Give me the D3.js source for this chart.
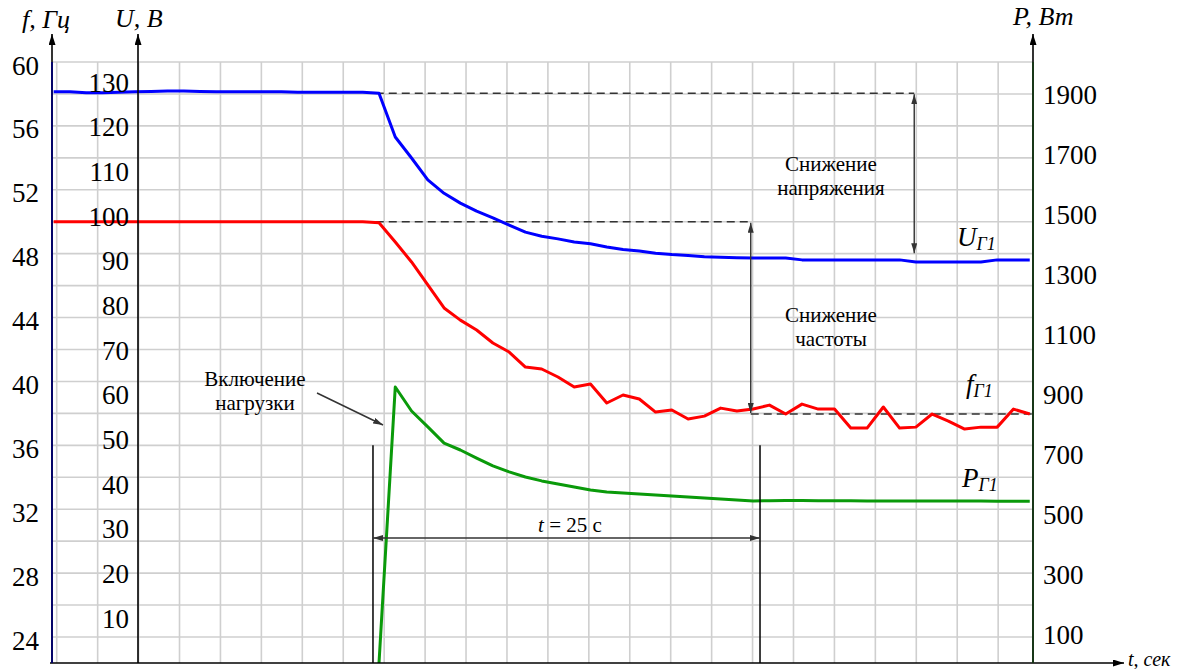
<!DOCTYPE html>
<html>
	<head>
		<meta charset="utf-8">

		<!-- D3.js -->
		<script src="https://cdnjs.cloudflare.com/ajax/libs/d3/7.8.5/d3.min.js" charset="utf-8"></script>

		<style>
			body { margin: 0; background: white; }

			.serif {
				font-family: "Liberation Serif", "DejaVu Serif", serif;
				fill: #000;
			}
			.axisTitle { font-style: italic; font-size: 26px; }
			.note { font-size: 21px; }
		</style>
	</head>
	<body>

		<div id="chart"></div>

		<script language="javascript" type="text/javascript">

			///////////////////////////////////////////////////////////////////////////
			///////////////////////////////// The data ////////////////////////////////
			///////////////////////////////////////////////////////////////////////////

			//Time stamps, one sample per second
			var time = d3.range(0, 61);

			//Generator voltage U_Г1, V
			var voltage = [127.8, 127.8, 127.6, 127.6, 127.7, 127.8, 127.9, 128.0, 128.0, 127.9,
				127.8, 127.8, 127.8, 127.8, 127.8, 127.7, 127.7, 127.7, 127.7, 127.7,
				127.5, 117.7, 113.0, 108.1, 105.1, 102.9, 101.1, 99.6, 98.0, 96.4,
				95.5, 94.9, 94.2, 93.8, 93.1, 92.5, 92.2, 91.7, 91.4, 91.2,
				90.9, 90.8, 90.7, 90.6, 90.6, 90.6, 90.2, 90.2, 90.2, 90.2,
				90.2, 90.2, 90.2, 89.7, 89.7, 89.7, 89.7, 89.7, 90.2, 90.2, 90.2];

			//Generator frequency f_Г1, Hz
			var frequency = [50.0, 50.0, 50.0, 50.0, 50.0, 50.0, 50.0, 50.0, 50.0, 50.0,
				50.0, 50.0, 50.0, 50.0, 50.0, 50.0, 50.0, 50.0, 50.0, 50.0,
				49.94, 48.73, 47.48, 46.04, 44.60, 43.84, 43.22, 42.41, 41.84, 40.90,
				40.78, 40.28, 39.65, 39.84, 38.65, 39.15, 38.90, 38.08, 38.21, 37.65,
				37.83, 38.33, 38.15, 38.27, 38.52, 37.96, 38.58, 38.27, 38.27, 37.08,
				37.08, 38.40, 37.08, 37.14, 37.96, 37.52, 37.02, 37.14, 37.14, 38.27, 37.96];

			//Generator power P_Г1, W (load switched on at t = 20 s)
			var powerTime = d3.range(20, 61);
			var power = [0, 920, 840, 787, 733, 710, 683, 657, 637, 620,
				607, 597, 587, 577, 570, 567, 563, 560, 557, 553,
				550, 547, 543, 540, 541, 542, 542, 541, 541, 541,
				540, 540, 540, 540, 540, 540, 540, 540, 539, 539, 539];

			//Tick labels of the three value axes
			var fTicks = [60, 56, 52, 48, 44, 40, 36, 32, 28, 24];
			var uTicks = [130, 120, 110, 100, 90, 80, 70, 60, 50, 40, 30, 20, 10];
			var pTicks = [1900, 1700, 1500, 1300, 1100, 900, 700, 500, 300, 100];

			//Reference levels for the annotations
			var uStart = 127.5, uSettled = 91.7;
			var fStart = 50, fSettled = 37.96;
			var tSwitch = 19.63, tSettle = 43.42;

			///////////////////////////////////////////////////////////////////////////
			//////////////////// Set up and initiate svg containers ///////////////////
			///////////////////////////////////////////////////////////////////////////

			var plot = { left: 52, right: 1033, top: 62, bottom: 663 };

			var svg = d3.select("#chart")
				.append("svg")
				.attr("width", 1179)
				.attr("height", 669)
				.style("display", "block");

			//Scales
			var x = d3.scaleLinear().domain([-0.1, 60.2]).range([plot.left, plot.right]);
			var yF = d3.scaleLinear().domain([60, 24]).range([plot.top, 637]);
			var yU = d3.scaleLinear().domain([0, 130]).range([plot.bottom, 82]);
			var yP = d3.scaleLinear().domain([0, 1900]).range([plot.bottom, 93]);

			//Arrow heads
			var defs = svg.append("defs");
			function addMarker(id, color, len, wid) {
				defs.append("marker")
					.attr("id", id)
					.attr("viewBox", "0 0 " + len + " " + wid)
					.attr("refX", len)
					.attr("refY", wid / 2)
					.attr("markerUnits", "userSpaceOnUse")
					.attr("markerWidth", len)
					.attr("markerHeight", wid)
					.attr("orient", "auto-start-reverse")
					.append("path")
					.attr("d", "M0,0 L" + len + "," + (wid / 2) + " L0," + wid + " Z")
					.style("fill", color);
			}//addMarker
			addMarker("axisArrow", "#000", 11, 7);
			addMarker("noteArrow", "#333", 10, 6);

			///////////////////////////////////////////////////////////////////////////
			///////////////////////////////// Grid lines //////////////////////////////
			///////////////////////////////////////////////////////////////////////////

			var hGrid = d3.range(60, 23, -2);
			var vGrid = d3.range(0.19, 60.2, 2.516);

			var grid = svg.append("g").attr("class", "grid");
			grid.selectAll(".hGrid")
				.data(hGrid)
				.join("line")
				.attr("class", "hGrid")
				.attr("x1", plot.left)
				.attr("x2", plot.right)
				.attr("y1", function(d) { return yF(d); })
				.attr("y2", function(d) { return yF(d); });
			grid.selectAll(".vGrid")
				.data(vGrid)
				.join("line")
				.attr("class", "vGrid")
				.attr("x1", function(d) { return x(d); })
				.attr("x2", function(d) { return x(d); })
				.attr("y1", plot.top)
				.attr("y2", plot.bottom);
			grid.selectAll("line")
				.style("stroke", "#cfcfcf")
				.style("stroke-width", 1.6);

			///////////////////////////////////////////////////////////////////////////
			/////////////////////////// Dashed reference lines ////////////////////////
			///////////////////////////////////////////////////////////////////////////

			function dashed(x1, x2, y) {
				svg.append("line")
					.attr("x1", x1).attr("x2", x2)
					.attr("y1", y).attr("y2", y)
					.style("stroke", "#333")
					.style("stroke-width", 1.5)
					.style("stroke-dasharray", "8,5");
			}
			dashed(x(19.8), x(52.9), yU(uStart));
			dashed(x(19.8), x(42.85), yF(fStart));
			dashed(x(42.85), plot.right, yF(fSettled));

			///////////////////////////////////////////////////////////////////////////
			////////////////////////////////// Series /////////////////////////////////
			///////////////////////////////////////////////////////////////////////////

			var uLine = d3.line()
				.x(function(d, i) { return x(time[i]); })
				.y(function(d) { return yU(d); });
			var fLine = d3.line()
				.x(function(d, i) { return x(time[i]); })
				.y(function(d) { return yF(d); });
			var pLine = d3.line()
				.x(function(d, i) { return x(powerTime[i]); })
				.y(function(d) { return yP(d); });

			var series = [
				{ values: voltage, line: uLine, color: "#0000ff" },
				{ values: frequency, line: fLine, color: "#ff0000" },
				{ values: power, line: pLine, color: "#0a9a0a" }
			];

			svg.selectAll(".series")
				.data(series)
				.join("path")
				.attr("class", "series")
				.attr("d", function(d) { return d.line(d.values); })
				.style("fill", "none")
				.style("stroke", function(d) { return d.color; })
				.style("stroke-width", 3)
				.style("stroke-linejoin", "round");

			///////////////////////////////////////////////////////////////////////////
			/////////////////////////////////// Axes //////////////////////////////////
			///////////////////////////////////////////////////////////////////////////

			//Axis lines with arrows
			function axisLine(x1, y1, x2, y2) {
				svg.append("line")
					.attr("x1", x1).attr("y1", y1)
					.attr("x2", x2).attr("y2", y2)
					.attr("marker-end", "url(#axisArrow)")
					.style("stroke", "#000")
					.style("stroke-width", 1.6);
			}
			axisLine(plot.left, plot.bottom, plot.left, 34);
			axisLine(138, plot.bottom, 138, 34);
			axisLine(plot.right, plot.bottom, plot.right, 34);
			axisLine(plot.left - 2, plot.bottom, 1124, plot.bottom);

			//Coloured parts of the f and P axes inside the plot
			svg.append("line")
				.attr("x1", plot.left).attr("x2", plot.left)
				.attr("y1", plot.top).attr("y2", plot.bottom)
				.style("stroke", "#000070").style("stroke-width", 1.8);
			svg.append("line")
				.attr("x1", plot.right).attr("x2", plot.right)
				.attr("y1", plot.top).attr("y2", plot.bottom)
				.style("stroke", "#163816").style("stroke-width", 1.8);

			//Tick labels through d3 axes
			function styleAxis(g, dy) {
				g.select(".domain").remove();
				g.selectAll(".tick line").remove();
				g.attr("font-family", null).attr("font-size", null);
				g.selectAll(".tick text")
					.attr("class", "serif")
					.attr("dy", dy)
					.style("font-size", "27px")
					.style("fill", "#000");
			}

			svg.append("g")
				.attr("transform", "translate(" + plot.left + ",0)")
				.call(d3.axisLeft(yF).tickValues(fTicks).tickFormat(d3.format("d")).tickSize(0).tickPadding(13))
				.call(styleAxis, 12);

			svg.append("g")
				.attr("transform", "translate(138,0)")
				.call(d3.axisLeft(yU).tickValues(uTicks).tickFormat(d3.format("d")).tickSize(0).tickPadding(9))
				.call(styleAxis, 9);

			svg.append("g")
				.attr("transform", "translate(" + plot.right + ",0)")
				.call(d3.axisRight(yP).tickValues(pTicks).tickFormat(d3.format("d")).tickSize(0).tickPadding(10))
				.call(styleAxis, 10);

			//Axis titles
			function axisTitle(px, py, txt, size) {
				svg.append("text")
					.attr("class", "serif axisTitle")
					.attr("x", px).attr("y", py)
					.style("font-size", size + "px")
					.text(txt);
			}
			axisTitle(22, 28, "f, Гц", 26);
			axisTitle(115, 27, "U, В", 26);
			axisTitle(1013, 25, "P, Вт", 26);
			axisTitle(1128, 666, "t, сек", 20);

			///////////////////////////////////////////////////////////////////////////
			/////////////////////////////// Annotations ///////////////////////////////
			///////////////////////////////////////////////////////////////////////////

			function noteLine(x1, y1, x2, y2, both) {
				var l = svg.append("line")
					.attr("x1", x1).attr("y1", y1)
					.attr("x2", x2).attr("y2", y2)
					.attr("marker-end", "url(#noteArrow)")
					.style("stroke", "#333")
					.style("stroke-width", 1.4);
				if (both) l.attr("marker-start", "url(#noteArrow)");
			}

			function noteText(px, py, lines) {
				var t = svg.append("text")
					.attr("class", "serif note")
					.attr("x", px).attr("y", py)
					.style("text-anchor", "middle");
				lines.forEach(function(s, i) {
					t.append("tspan").attr("x", px).attr("dy", i ? 24 : 0).text(s);
				});
			}

			//Voltage drop
			noteLine(x(52.9), yU(uStart) + 1, x(52.9), yU(uSettled), true);
			noteText(831, 171, ["Снижение", "напряжения"]);

			//Frequency drop
			noteLine(x(42.85), yF(fStart) + 1, x(42.85), yF(fSettled) - 1, true);
			noteText(831, 322, ["Снижение", "частоты"]);

			//Load switched on
			noteText(255, 386, ["Включение", "нагрузки"]);
			noteLine(317, 393, 383, 425, false);

			//Transient duration
			[tSwitch, tSettle].forEach(function(t) {
				svg.append("line")
					.attr("x1", x(t)).attr("x2", x(t))
					.attr("y1", yF(36)).attr("y2", plot.bottom)
					.style("stroke", "#000")
					.style("stroke-width", 1.5);
			});
			noteLine(x(tSwitch), 538, x(tSettle), 538, true);
			var tLabel = svg.append("text")
				.attr("class", "serif note")
				.attr("x", 570).attr("y", 532)
				.style("text-anchor", "middle");
			tLabel.append("tspan").style("font-style", "italic").text("t");
			tLabel.append("tspan").text(" = 25 с");

			//Series labels with subscripts
			function seriesLabel(px, py, main) {
				var t = svg.append("text")
					.attr("class", "serif")
					.attr("x", px).attr("y", py)
					.style("font-style", "italic");
				t.append("tspan").style("font-size", "27px").text(main);
				t.append("tspan").attr("dy", 4).style("font-size", "18px").text("Г1");
			}
			seriesLabel(957, 246, "U");
			seriesLabel(966, 393, "f");
			seriesLabel(962, 487, "P");

		</script>

	</body>
</html>
